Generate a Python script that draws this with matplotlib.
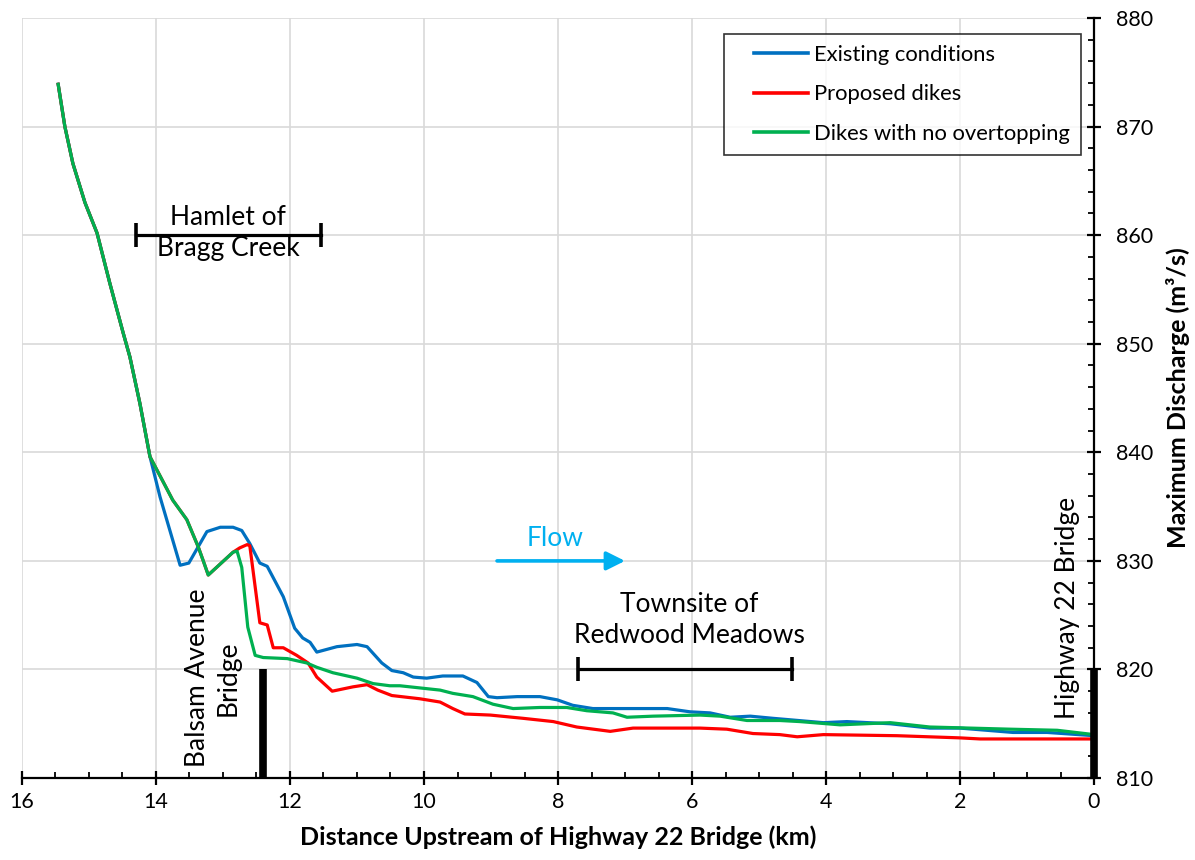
import matplotlib
matplotlib.use("Agg")
import matplotlib.pyplot as plt
from matplotlib.ticker import MultipleLocator
from matplotlib.lines import Line2D
from matplotlib.legend_handler import HandlerLine2D

plt.rcParams['font.family'] = ['Lato', 'DejaVu Sans']

# upstream reach, common to all three runs
x_top = [15.46, 15.36, 15.24, 15.06, 14.88, 14.69, 14.49, 14.39, 14.24, 14.09]
q_top = [873.9, 870.0, 866.6, 863.0, 860.2, 855.6, 851.0, 848.8, 844.5, 839.6]

# existing conditions
x_exist = x_top + [13.94, 13.64, 13.51, 13.24, 13.04, 12.85, 12.72, 12.60, 12.45, 12.34,
                   12.10, 11.93, 11.81, 11.70, 11.60, 11.30, 11.00, 10.85, 10.63, 10.48,
                   10.31, 10.16, 9.96, 9.72, 9.42, 9.21, 9.04, 8.91, 8.61, 8.27,
                   8.01, 7.78, 7.48, 6.88, 6.37, 6.03, 5.73, 5.43, 5.13, 4.79,
                   4.60, 4.04, 3.69, 3.04, 2.45, 2.00, 1.21, 0.70, 0.00]
q_exist = q_top + [835.9, 829.6, 829.8, 832.7, 833.1, 833.1, 832.8, 831.6, 829.8, 829.5,
                   826.7, 823.8, 822.9, 822.5, 821.6, 822.1, 822.3, 822.1, 820.6, 819.9,
                   819.7, 819.3, 819.2, 819.4, 819.4, 818.8, 817.5, 817.4, 817.5, 817.5,
                   817.2, 816.7, 816.4, 816.4, 816.4, 816.1, 816.0, 815.6, 815.7, 815.5,
                   815.4, 815.1, 815.2, 815.0, 814.6, 814.6, 814.2, 814.2, 813.9]

# proposed dikes
x_dikes = x_top + [13.75, 13.54, 13.37, 13.30, 13.22, 12.85, 12.75, 12.64, 12.60, 12.45,
                   12.34, 12.25, 12.10, 11.90, 11.73, 11.60, 11.37, 11.06, 10.85, 10.69,
                   10.48, 10.06, 9.76, 9.57, 9.39, 9.01, 8.52, 8.07, 7.72, 7.22,
                   6.88, 6.37, 5.88, 5.48, 5.09, 4.69, 4.43, 4.04, 2.94, 2.00,
                   1.70, 0.00]
q_dikes = q_top + [835.6, 833.8, 831.3, 830.1, 828.7, 830.8, 831.2, 831.5, 831.4, 824.3,
                   824.1, 822.0, 822.0, 821.3, 820.6, 819.3, 818.0, 818.4, 818.6, 818.1,
                   817.6, 817.3, 817.0, 816.4, 815.9, 815.8, 815.5, 815.2, 814.7, 814.3,
                   814.6, 814.6, 814.6, 814.5, 814.1, 814.0, 813.8, 814.0, 813.9, 813.7,
                   813.6, 813.6]

# dikes with no overtopping
x_noover = x_top + [13.75, 13.54, 13.37, 13.30, 13.22, 12.85, 12.79, 12.72, 12.63, 12.52,
                    12.40, 12.04, 11.75, 11.60, 11.36, 11.00, 10.76, 10.51, 10.36, 10.06,
                    9.76, 9.57, 9.27, 8.97, 8.67, 8.27, 7.87, 7.57, 7.18, 6.97,
                    6.58, 5.88, 5.58, 5.18, 4.69, 4.39, 3.79, 3.04, 2.45, 1.25,
                    0.55, 0.00]
q_noover = q_top + [835.6, 833.8, 831.3, 830.1, 828.7, 830.8, 830.9, 829.4, 823.9, 821.3,
                    821.1, 821.0, 820.6, 820.2, 819.7, 819.2, 818.7, 818.5, 818.5, 818.3,
                    818.1, 817.8, 817.5, 816.8, 816.4, 816.5, 816.5, 816.2, 816.0, 815.6,
                    815.7, 815.8, 815.7, 815.3, 815.3, 815.2, 814.9, 815.1, 814.7, 814.5,
                    814.4, 814.0]

series_names = ['Existing conditions', 'Proposed dikes', 'Dikes with no overtopping']
series_colors = ['#0070C0', '#FF0000', '#00B050']

fig = plt.figure(figsize=(11.95, 8.6), dpi=100)
ax = fig.add_axes([0.0184, 0.0953, 0.8971, 0.8837])

for xs, qs, name, col in zip([x_exist, x_dikes, x_noover], [q_exist, q_dikes, q_noover],
                             series_names, series_colors):
    ax.plot(xs, qs, color=col, lw=2.3, label=name, zorder=3)

ax.set_xlim(16, 0)
ax.set_ylim(810, 880)
ax.xaxis.set_major_locator(MultipleLocator(2))
ax.xaxis.set_minor_locator(MultipleLocator(0.5))
ax.yaxis.set_major_locator(MultipleLocator(10))
ax.yaxis.set_minor_locator(MultipleLocator(2))
ax.yaxis.tick_right()
ax.yaxis.set_label_position('right')
ax.grid(True, which='major', color='#d9d9d9', lw=1.2, zorder=0)
ax.set_axisbelow(True)

for s in ['left', 'top']:
    ax.spines[s].set_visible(False)
for s in ['right', 'bottom']:
    ax.spines[s].set_linewidth(1.6)

ax.tick_params(which='major', direction='inout', length=10, width=1.6, labelsize=15.5)
ax.tick_params(which='minor', direction='in', length=4, width=1.3)
ax.tick_params(axis='x', which='major', pad=5)
ax.tick_params(axis='y', which='major', pad=11)

ax.set_xlabel('Distance Upstream of Highway 22 Bridge (km)', fontsize=18,
              fontweight='bold', labelpad=10)
ax.set_ylabel('Maximum Discharge (m³/s)', fontsize=18, fontweight='bold', labelpad=9)

note_size = 19
note_spacing = 1.3

# community extents
ax.plot([14.30, 11.54], [860, 860], color='black', lw=2.3, zorder=4)
ax.plot([14.30, 11.54], [860, 860], ls='none', marker='|', ms=17, mew=2.6,
        color='black', zorder=4)
ax.text(12.92, 860.2, 'Hamlet of\nBragg Creek', ha='center', va='center',
        fontsize=note_size, linespacing=note_spacing, zorder=5)

ax.plot([7.70, 4.51], [820, 820], color='black', lw=2.3, zorder=4)
ax.plot([7.70, 4.51], [820, 820], ls='none', marker='|', ms=17, mew=2.6,
        color='black', zorder=4)
ax.text(6.04, 824.6, 'Townsite of\nRedwood Meadows', ha='center', va='center',
        fontsize=note_size, linespacing=note_spacing, zorder=5)

# bridges
ax.plot([12.4, 12.4], [810, 820], color='black', lw=5.5, solid_capstyle='butt',
        zorder=5, clip_on=False)
ax.text(13.15, 819.2, 'Balsam Avenue\nBridge', rotation=90, ha='center', va='center',
        multialignment='center', fontsize=note_size, linespacing=note_spacing, zorder=5)
ax.plot([0, 0], [810, 820], color='black', lw=5.5, solid_capstyle='butt',
        zorder=5, clip_on=False)
ax.text(0.39, 825.7, 'Highway 22 Bridge', rotation=90, ha='center', va='center',
        fontsize=note_size, zorder=5)

# flow direction
ax.annotate('', xy=(7.0, 830.0), xytext=(8.91, 830.0),
            arrowprops=dict(arrowstyle='-|>', color='#00B0F0', lw=2.6,
                            mutation_scale=28, shrinkA=0, shrinkB=0))
ax.text(8.05, 832.1, 'Flow', color='#00B0F0', ha='center', va='center', fontsize=note_size)

leg = ax.legend(loc='upper right', bbox_to_anchor=(0.988, 0.979), borderaxespad=0,
                fontsize=15.8, fancybox=False, handlelength=3.3, labelspacing=0.88,
                borderpad=0.5, handletextpad=0.3,
                handler_map={Line2D: HandlerLine2D(xpad=0.85)})
leg.get_frame().set_edgecolor('black')
leg.get_frame().set_linewidth(1.2)
for line in leg.get_lines():
    line.set_linewidth(2.6)

fig.savefig('out.png', dpi=100)
